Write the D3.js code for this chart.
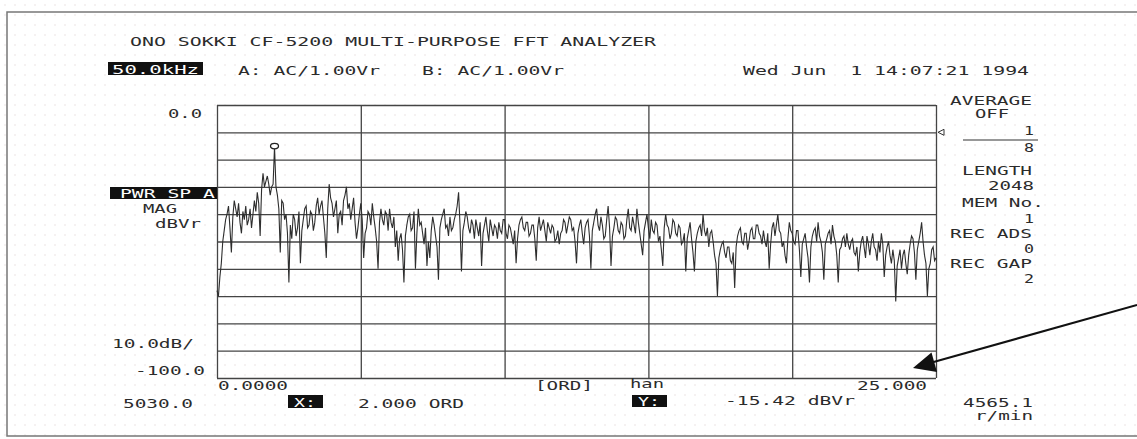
<!DOCTYPE html>
<html>
<head>
<meta charset="utf-8">
<script src="https://cdn.jsdelivr.net/npm/d3@7"></script>
<style>
  body { margin: 0; background: #fff; }
  svg text { font-family: "DejaVu Sans Mono", "Liberation Mono", monospace; fill: #2b2b2b; white-space: pre; }
</style>
</head>
<body>
<svg id="fft" width="1137" height="439"></svg>
<script>
// spectrum, one value every 0.05 ORD from 0 to 25 ORD (dBVr)
var startOrd = 0, stepOrd = 0.05;
var magnitude = [
  -68, -70, -63, -58, -50, -46, -42, -40, -37, -45, -54, -41, -35, -38, -41, -36, -43, -47, -39, -42,
  -37, -44, -42, -38, -45, -40, -35, -39, -32, -36, -48, -31, -25, -30, -28, -26, -29, -33, -30, -29,
  -15.42, -30, -33, -38, -54, -35, -36, -42, -40, -47, -65, -44, -49, -40, -42, -48, -45, -39, -58, -46,
  -42, -38, -37, -45, -44, -39, -40, -46, -43, -37, -34, -40, -37, -35, -41, -47, -56, -38, -29, -34,
  -36, -41, -38, -35, -47, -40, -39, -44, -35, -33, -30, -38, -36, -42, -38, -34, -43, -49, -45, -40,
  -36, -42, -56, -47, -45, -39, -40, -44, -36, -41, -45, -50, -60, -43, -38, -42, -44, -39, -40, -46,
  -38, -43, -45, -41, -52, -46, -57, -49, -47, -53, -65, -48, -44, -41, -40, -46, -45, -39, -60, -47,
  -38, -44, -43, -47, -51, -45, -59, -50, -56, -46, -41, -44, -48, -52, -64, -45, -42, -40, -38, -45,
  -44, -48, -41, -46, -45, -42, -40, -37, -32, -44, -61, -46, -43, -39, -41, -45, -47, -42, -44, -49,
  -42, -45, -48, -43, -59, -47, -44, -41, -46, -50, -42, -45, -48, -44, -45, -49, -43, -46, -47, -42,
  -42, -47, -49, -44, -45, -48, -51, -46, -58, -49, -44, -42, -41, -45, -46, -43, -43, -48, -47, -44,
  -44, -49, -57, -45, -41, -46, -44, -42, -46, -50, -43, -45, -47, -44, -45, -50, -49, -46, -51, -47,
  -46, -42, -43, -47, -44, -41, -42, -46, -45, -50, -58, -47, -44, -42, -47, -51, -45, -43, -42, -48,
  -60, -46, -43, -40, -38, -44, -46, -41, -44, -49, -48, -42, -37, -45, -59, -48, -45, -41, -42, -46,
  -47, -43, -44, -49, -48, -42, -38, -45, -46, -41, -44, -47, -38, -43, -47, -51, -55, -46, -43, -40,
  -45, -49, -42, -46, -47, -43, -44, -50, -48, -53, -59, -45, -40, -44, -45, -49, -47, -42, -43, -47,
  -48, -44, -45, -51, -50, -47, -61, -49, -46, -43, -49, -54, -61, -50, -47, -45, -44, -48, -40, -46,
  -48, -45, -52, -47, -46, -50, -55, -58, -70, -56, -53, -51, -50, -54, -56, -52, -52, -57, -58, -54,
  -67, -52, -48, -46, -45, -50, -51, -47, -47, -53, -50, -46, -45, -49, -49, -44, -44, -47, -48, -51,
  -46, -50, -52, -47, -60, -51, -45, -43, -48, -44, -40, -46, -47, -52, -50, -55, -58, -49, -43, -46,
  -47, -50, -51, -46, -46, -53, -63, -51, -49, -47, -52, -56, -65, -52, -48, -46, -45, -50, -43, -48,
  -50, -54, -64, -51, -49, -47, -46, -51, -44, -48, -50, -55, -65, -53, -52, -49, -48, -52, -47, -51,
  -53, -50, -49, -54, -55, -52, -61, -54, -50, -48, -52, -56, -48, -51, -55, -50, -47, -52, -53, -57,
  -50, -54, -47, -51, -63, -55, -52, -50, -55, -58, -53, -57, -72, -59, -56, -53, -60, -55, -53, -58,
  -62, -55, -51, -48, -49, -54, -64, -53, -50, -47, -43, -50, -55, -58, -70, -60, -58, -53, -52, -57,
  -56
];

var xTicks = [0, 5, 10, 15, 20, 25];
var yTicks = [0, -10, -20, -30, -40, -50, -60, -70, -80, -90, -100];
var xTickLabels = ["0.0000", "25.000"];
var yTickLabels = ["0.0", "-100.0"];
var cursorOrd = 2.0, cursorVal = -15.42;

var svg = d3.select("svg#fft");

// printer paper dots
var defs = svg.append("defs");
defs.append("pattern")
  .attr("id", "dots").attr("width", 10).attr("height", 10)
  .attr("patternUnits", "userSpaceOnUse")
  .append("circle").attr("cx", 5).attr("cy", 5).attr("r", 0.7)
  .attr("fill", "#e2d8d8");
svg.append("rect").attr("width", 1137).attr("height", 439).attr("fill", "url(#dots)");

// outer frame
svg.append("path").attr("d", "M1137,12H7V436H1137")
  .attr("fill", "none").attr("stroke", "#777").attr("stroke-width", 1.5);

var plot = { left: 217, right: 936, top: 105, bottom: 378 };
var width = plot.right - plot.left, height = plot.bottom - plot.top;

var x = d3.scaleLinear().domain([0, 25]).range([plot.left, plot.right]);
var y = d3.scaleLinear().domain([-100, 0]).range([plot.bottom, plot.top]);

// grid
svg.append("g")
  .attr("transform", "translate(0," + plot.bottom + ")")
  .call(d3.axisBottom(x).tickValues(xTicks).tickSize(-height).tickFormat(""));
svg.append("g")
  .attr("transform", "translate(" + plot.left + ",0)")
  .call(d3.axisLeft(y).tickValues(yTicks).tickSize(-width).tickFormat(""));
svg.selectAll(".domain").remove();
svg.selectAll(".tick line").attr("stroke", "#444").attr("stroke-width", 1.3);

// trace
var line = d3.line()
  .x(function (d, i) { return x(startOrd + i * stepOrd); })
  .y(function (d) { return y(d); });
svg.append("path")
  .datum(magnitude)
  .attr("d", line)
  .attr("fill", "none")
  .attr("stroke", "#2e2e2e")
  .attr("stroke-width", 1.1)
  .attr("stroke-linejoin", "miter");

// cursor
svg.append("ellipse")
  .attr("cx", x(cursorOrd)).attr("cy", y(cursorVal) - 1)
  .attr("rx", 4).attr("ry", 2.7)
  .attr("fill", "#fff").attr("stroke", "#222").attr("stroke-width", 1.3);

// reference marker on the right edge
svg.append("path")
  .attr("d", "M" + (plot.right + 2) + "," + y(-10) + "l6,-3v6z")
  .attr("fill", "none").attr("stroke", "#333").attr("stroke-width", 1);

function label(px, py, s, fill, len) {
  return svg.append("text")
    .attr("x", px).attr("y", py)
    .attr("font-size", 13)
    .attr("textLength", len || s.length * 12 - 2)
    .attr("lengthAdjust", "spacingAndGlyphs")
    .style("fill", fill || null)
    .text(s);
}

function inverse(bx, by, bw, bh, tx, ty, s, len) {
  svg.append("rect").attr("x", bx).attr("y", by).attr("width", bw).attr("height", bh)
    .attr("fill", "#111");
  label(tx, ty, s, "#fff", len);
}

label(130, 46, "ONO SOKKI CF-5200 MULTI-PURPOSE FFT ANALYZER");
inverse(108, 62, 95, 13, 112, 74, "50.0kHz", 87);
label(238, 75, "A: AC/1.00Vr");
label(422, 75, "B: AC/1.00Vr");
label(743, 75, "Wed Jun  1 14:07:21 1994");

// y labels
label(plot.left - 15 - (yTickLabels[0].length * 12 - 2), y(0) + 13, yTickLabels[0]);
label(plot.left - 12 - (yTickLabels[1].length * 12 - 2), y(-100) - 3, yTickLabels[1]);
inverse(110, 187, 107, 12, 120, 198, "PWR SP A", 95);
label(143, 213, "MAG");
label(155, 228, "dBVr");
label(112, 348, "10.0dB/");

// x labels
label(x(0) + 1, plot.bottom + 12, xTickLabels[0]);
label(x(25) - 9 - (xTickLabels[1].length * 12 - 2), plot.bottom + 12, xTickLabels[1]);
label(535, 390, "[ORD]");
label(630, 388, "han");
label(123, 408, "5030.0");
inverse(288, 395, 35, 13, 294, 407, "X:");
label(358, 408, "2.000 ORD");
inverse(632, 395, 35, 12, 638, 406, "Y:");
label(725, 405, "-15.42 dBVr");
label(963, 407, "4565.1");
label(975, 420, "r/min");

// right panel
label(950, 105, "AVERAGE");
label(975, 118, "OFF");
label(1024, 135, "1");
svg.append("line").attr("x1", 963).attr("x2", 1038).attr("y1", 140).attr("y2", 140)
  .attr("stroke", "#333").attr("stroke-width", 1.2);
label(1024, 152, "8");
label(962, 175, "LENGTH");
label(988, 190, "2048");
label(962, 207, "MEM No.");
label(1024, 223, "1");
label(950, 238, "REC ADS");
label(1024, 253, "0");
label(950, 268, "REC GAP");
label(1024, 283, "2");

// annotation arrow
svg.append("line").attr("x1", 1137).attr("y1", 305).attr("x2", 930).attr("y2", 363)
  .attr("stroke", "#111").attr("stroke-width", 2);
svg.append("path").attr("d", "M913,368L937,372L931.5,352.5Z").attr("fill", "#111");
</script>
</body>
</html>
